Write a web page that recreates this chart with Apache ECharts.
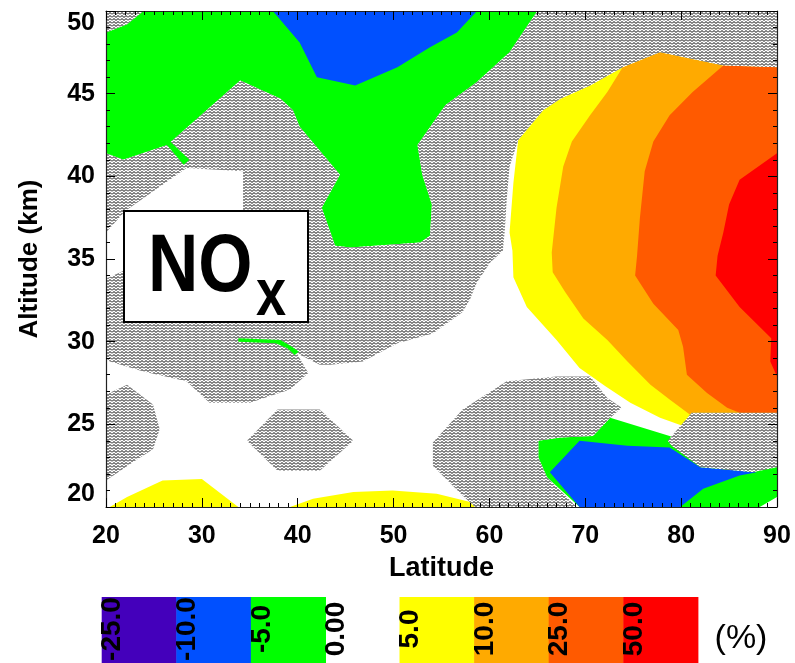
<!DOCTYPE html>
<html>
<head>
<meta charset="utf-8">
<script src="https://cdn.jsdelivr.net/npm/echarts@6/dist/echarts.min.js"></script>
<style>
  html, body { margin: 0; padding: 0; background: #fff; }
  #chart { width: 795px; height: 663px; }
</style>
</head>
<body>
<div id="chart"></div>
<script>
const FONT = '"Liberation Sans", Arial, Helvetica, sans-serif';

// Axis ranges
const latRange = [20, 90];
const altRange = [20, 50];

// Contour levels of the colour key (%)
const negLevels = ['-25.0', '-10.0', '-5.0', '0.00'];
const negColors = ['#4400bb', '#0050ff', '#00ff00'];
const posLevels = ['5.0', '10.0', '25.0', '50.0'];
const posColors = ['#ffff00', '#ffaa00', '#ff5a00', '#ff0000'];

// Filled contour regions, vertices as [latitude, altitude km]
const yellowPolar = [[63.0,42.2],[65.6,44.0],[67.4,44.7],[70.5,45.5],[73.9,46.6],[77.8,47.5],[84.4,46.7],[90,46.6],[90,25.7],[81.1,25.7],[80.2,24.9],[77.8,25.4],[74.7,26.3],[72.1,27.3],[69.4,28.4],[67.0,30.1],[63.9,32.1],[62.5,33.9],[62.4,35.5],[62.1,36.6],[62.5,39.6]];
const orangePolar = [[73.9,46.6],[77.8,47.5],[84.4,46.7],[90,46.6],[90,25.7],[81.1,25.7],[80.9,25.6],[78.8,26.5],[76.8,27.4],[74.4,28.8],[72.3,30.1],[69.8,31.4],[67.9,33.0],[66.6,34.2],[66.5,35.4],[67.0,38.1],[67.7,40.6],[68.6,42.1],[70.5,43.7],[72.3,45.1]];
const darkOrangePolar = [[84.4,46.7],[90,46.6],[90,25.7],[86.1,25.7],[84.8,26.0],[82.7,26.9],[80.6,28.0],[80.2,29.7],[79.7,30.7],[77.1,32.3],[75.2,34.0],[75.4,35.2],[75.7,37.5],[76.2,40.3],[77.1,42.1],[78.8,43.7],[81.2,45.1]];
const redPolar = [[90,41.4],[86.1,39.8],[85.0,38.3],[84.4,36.6],[83.8,35.2],[83.6,34.0],[86.1,32.1],[89.4,30.2],[89.3,28.8],[90,27.9]];
const yellowSurfaceW = [[20.4,20],[22.2,20.6],[25.9,21.6],[30.0,21.7],[33.8,20]];
const yellowSurfaceE = [[39.2,20],[41.6,20.5],[45.8,20.9],[49.9,21.0],[54.5,20.8],[58.0,20.3],[59.0,20]];
const greenUpper = [[23.9,50],[65.0,50],[62.1,47.5],[58.7,45.7],[55.4,44.3],[52.5,41.9],[53.0,40.1],[54.0,38.3],[53.8,36.4],[52.8,36.0],[45.5,35.7],[43.9,35.8],[42.5,38.1],[44.4,40.1],[40.2,43.0],[39.5,44.0],[38.2,44.7],[34.0,45.8],[26.4,41.9],[21.8,41.0],[20,41.4],[20,48.7],[22.2,49.2]];
const blueUpper = [[37.4,50],[40.2,48.1],[42.0,46.0],[46.0,45.5],[50.4,46.6],[53.8,47.8],[56.6,48.7],[58.7,50]];
const greenLower = [[65.1,24.0],[67.4,24.2],[70.8,24.3],[72.6,25.4],[78.8,24.3],[81.7,23.7],[90,23.1],[90,20.6],[88.2,20],[80.2,20],[69.4,20],[66.0,21.8],[65.1,23.0]];
const blueLower = [[66.3,22.1],[69.4,24.0],[74.4,23.7],[78.8,23.6],[82.0,22.4],[87.9,22.1],[86.1,21.9],[82.3,21.1],[79.9,20],[69.4,20]];
const greenStreakUpper = [[26.2,42.0],[26.7,42.1],[28.7,41.0],[28.1,40.7]];
const greenStreakLower = [[33.8,30.2],[38.2,30.1],[39.4,29.7],[40.1,29.4],[39.7,29.2],[38.9,29.6],[37.7,29.9],[33.8,30.0]];

// Hatched (not significant) regions
const hatchCorner = [[20,50],[23.9,50],[22.2,49.2],[20,48.7]];
const hatchMain = [[20,41.4],[21.8,41.0],[26.4,41.9],[34.0,45.8],[38.2,44.7],[39.5,44.0],[40.2,43.0],[44.4,40.1],[42.5,38.1],[43.9,35.8],[45.5,35.7],[52.8,36.0],[53.8,36.4],[54.0,38.3],[53.0,40.1],[52.5,41.9],[55.4,44.3],[58.7,45.7],[62.1,47.5],[65.0,50],[90,50],[90,46.6],[84.4,46.7],[77.8,47.5],[73.9,46.6],[70.5,45.5],[67.4,44.7],[65.6,44.0],[63.0,42.2],[62.1,40.6],[61.8,38.6],[61.6,36.7],[61.4,35.5],[60.1,34.8],[58.7,33.6],[58.0,32.6],[57.2,31.8],[54.1,30.5],[50.4,29.9],[46.8,28.8],[43.4,28.6],[42.3,28.6],[39.9,29.3],[41.1,28.1],[39.2,27.1],[35.0,26.3],[30.8,26.3],[28.4,27.6],[23.9,28.2],[20.4,28.8],[20,29.0],[20,33.8],[21.9,34.3],[34.3,36.1],[34.3,40.3],[28.4,40.5],[22.0,37.9],[20,36.6]];
const hatchLeft = [[20,26.8],[22.2,27.4],[24.9,26.2],[25.6,24.7],[24.9,23.5],[22.8,22.7],[20,21.6]];
const hatchMid = [[34.7,24.0],[37.9,25.9],[42.3,25.9],[45.8,24.0],[42.3,22.2],[37.9,22.2]];
const hatchLow = [[54.1,23.9],[57.2,25.9],[61.8,27.6],[67.0,27.9],[70.5,27.9],[72.3,26.6],[73.8,26.0],[72.6,25.4],[70.8,24.3],[67.4,24.2],[65.1,24.0],[65.1,23.0],[66.0,21.8],[69.1,20],[58.5,20],[57.2,20.7],[54.1,22.5]];
const hatchRight = [[78.6,24.0],[81.1,25.7],[90,25.7],[90,22.4],[87.5,22.1],[82.0,22.4],[79.0,23.7]];

// Zig-zag hatch tile
function makeHatch() {
  const c = document.createElement('canvas');
  c.width = 8; c.height = 9;
  const g = c.getContext('2d');
  g.fillStyle = '#fff';
  g.fillRect(0, 0, 8, 9);
  g.strokeStyle = '#000';
  g.lineWidth = 1;
  for (let k = -1; k < 4; k++) {
    const y = k * 3 + 0.5;
    g.beginPath();
    g.moveTo(0, y + 2);
    g.lineTo(2, y);
    g.lineTo(4, y + 2);
    g.lineTo(6, y);
    g.lineTo(8, y + 2);
    g.stroke();
  }
  return c;
}
const hatchFill = { image: makeHatch(), repeat: 'repeat' };

function region(points, fill, z) {
  return {
    type: 'custom',
    coordinateSystem: 'cartesian2d',
    xAxisIndex: 0,
    yAxisIndex: 0,
    silent: true,
    clip: true,
    z: z,
    data: points,
    encode: { x: 0, y: 1 },
    renderItem: function (params, api) {
      if (params.dataIndex !== 0) return null;
      const pts = points.map(function (p) { return api.coord(p); });
      return { type: 'polygon', shape: { points: pts }, style: { fill: fill, stroke: null } };
    }
  };
}

const series = [
  region(yellowPolar, posColors[0], 2),
  region(orangePolar, posColors[1], 2),
  region(darkOrangePolar, posColors[2], 2),
  region(redPolar, posColors[3], 2),
  region(yellowSurfaceW, posColors[0], 2),
  region(yellowSurfaceE, posColors[0], 2),
  region(greenUpper, negColors[2], 2),
  region(blueUpper, negColors[1], 2),
  region(greenLower, negColors[2], 2),
  region(blueLower, negColors[1], 2),
  region(hatchCorner, hatchFill, 3),
  region(hatchMain, hatchFill, 3),
  region(hatchLeft, hatchFill, 3),
  region(hatchMid, hatchFill, 3),
  region(hatchLow, hatchFill, 3),
  region(hatchRight, hatchFill, 3),
  region(greenStreakUpper, negColors[2], 4),
  region(greenStreakLower, negColors[2], 4)
];

const tickStyle = { color: '#000', width: 1 };
const labelStyle = { fontSize: 25, fontWeight: 'bold', color: '#000', fontFamily: FONT };

function xAx(pos, showLabel) {
  return {
    type: 'value', position: pos, min: latRange[0], max: latRange[1], interval: 10, z: 10,
    axisLine: { show: true, onZero: false, lineStyle: { color: '#222', width: 1.2 } },
    axisTick: { show: true, inside: true, length: 9, lineStyle: tickStyle },
    minorTick: { show: true, splitNumber: 10, length: 4, lineStyle: tickStyle },
    splitLine: { show: false },
    axisLabel: Object.assign({ show: showLabel, margin: 17 }, labelStyle),
    name: showLabel ? 'Latitude' : '',
    nameLocation: 'middle',
    nameGap: 48,
    nameTextStyle: { fontSize: 27, fontWeight: 'bold', color: '#000', fontFamily: FONT }
  };
}
function yAx(pos, showLabel) {
  return {
    type: 'value', position: pos, min: altRange[0], max: altRange[1], interval: 5, z: 10,
    axisLine: { show: true, onZero: false, lineStyle: { color: '#222', width: 1.2 } },
    axisTick: { show: true, inside: true, length: 9, lineStyle: tickStyle },
    minorTick: { show: true, splitNumber: 5, length: 4, lineStyle: tickStyle },
    splitLine: { show: false },
    axisLabel: Object.assign({ show: showLabel, margin: 11, verticalAlignMinLabel: 'bottom', verticalAlignMaxLabel: 'top' }, labelStyle),
    name: showLabel ? 'Altitude (km)' : '',
    nameLocation: 'middle',
    nameGap: 63,
    nameRotate: 90,
    nameTextStyle: { fontSize: 26, fontWeight: 'bold', color: '#000', fontFamily: FONT }
  };
}

// Colour key under the plot
const key = [];
const keyTop = 597, keyH = 66, keyW = 74.6, negX0 = 101.7, posX0 = 399.5, keyLabelY = 629;
function keyGroup(levels, colors, x0) {
  colors.forEach(function (c, i) {
    key.push({ type: 'rect', shape: { x: x0 + i * keyW, y: keyTop, width: keyW + 0.5, height: keyH }, style: { fill: c }, z: 20 });
  });
  levels.forEach(function (t, i) {
    key.push({
      type: 'text', x: x0 + i * keyW + 11, y: keyLabelY, rotation: Math.PI / 2, z: 21,
      style: { text: t, fontSize: 28, fontWeight: 'bold', fontFamily: FONT, fill: '#000', align: 'center', verticalAlign: 'middle' }
    });
  });
}
keyGroup(negLevels, negColors, negX0);
keyGroup(posLevels, posColors, posX0);
key.push({ type: 'text', x: 741, y: 639, z: 21, style: { text: '(%)', fontSize: 34, fontFamily: FONT, fill: '#000', align: 'center', verticalAlign: 'middle' } });

// Species label box
const speciesBox = [
  { type: 'rect', shape: { x: 124, y: 211, width: 184, height: 111 }, style: { fill: '#fff', stroke: '#000', lineWidth: 2 }, z: 30 },
  { type: 'text', x: 148, y: 268, scaleX: 0.85, z: 31, style: { text: 'NO', fontSize: 82, fontWeight: 'bold', fontFamily: FONT, fill: '#000', align: 'left', verticalAlign: 'middle' } },
  { type: 'text', x: 256, y: 297, scaleX: 0.82, z: 31, style: { text: 'x', fontSize: 66, fontWeight: 'bold', fontFamily: FONT, fill: '#000', align: 'left', verticalAlign: 'middle' } }
];

const chart = echarts.init(document.getElementById('chart'), null, { renderer: 'canvas' });
chart.setOption({
  animation: false,
  backgroundColor: '#fff',
  grid: { left: 106, right: 18, top: 11, bottom: 156, containLabel: false },
  xAxis: [xAx('bottom', true), xAx('top', false)],
  yAxis: [yAx('left', true), yAx('right', false)],
  series: series,
  graphic: key.concat(speciesBox)
});
</script>
</body>
</html>
